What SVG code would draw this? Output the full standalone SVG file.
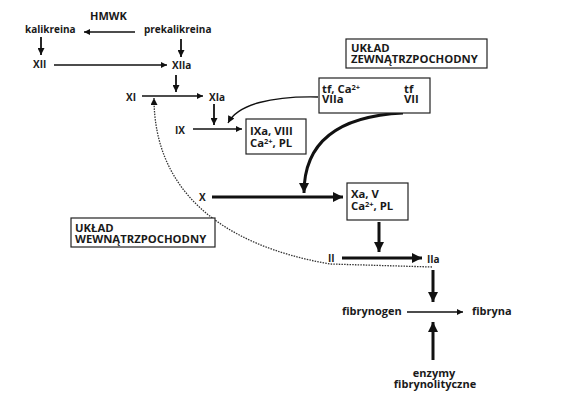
<svg xmlns="http://www.w3.org/2000/svg" width="563" height="403" viewBox="0 0 563 403">
<style>
text{font-family:"Open Sans","Liberation Sans",sans-serif;font-weight:bold;font-size:10px;fill:#1a1a1a}
.bx{font-size:11.3px}
.lg{font-size:11px}
.box{fill:#fff;stroke:#222;stroke-width:1.2}
.thin{stroke:#111;stroke-width:1.3;fill:none}
.med{stroke:#111;stroke-width:1.8;fill:none}
.thick{stroke:#111;stroke-width:3;fill:none}
.dot{stroke:#333;stroke-width:1.3;fill:none;stroke-dasharray:1.5 1.2}
.sup{font-size:7.5px}
</style>
<defs>
<marker id="ah" viewBox="0 0 10 10" refX="10" refY="5" markerWidth="8" markerHeight="6" markerUnits="userSpaceOnUse" orient="auto"><path d="M0,0 L10,5 L0,10 z" fill="#111"/></marker>
<marker id="ahm" viewBox="0 0 10 10" refX="10" refY="5" markerWidth="8" markerHeight="7" markerUnits="userSpaceOnUse" orient="auto"><path d="M0,0 L10,5 L0,10 z" fill="#111"/></marker>
<marker id="ahb" viewBox="0 0 10 10" refX="10" refY="5" markerWidth="12" markerHeight="10" markerUnits="userSpaceOnUse" orient="auto"><path d="M0,0 L10,5 L0,10 z" fill="#111"/></marker>
</defs>
<g id="connectors">
<line class="thin" x1="135" y1="32" x2="84" y2="32" marker-end="url(#ah)"/>
<line class="med" x1="41" y1="37" x2="41" y2="55" marker-end="url(#ahm)"/>
<line class="med" x1="181" y1="39" x2="181" y2="57" marker-end="url(#ahm)"/>
<line class="thin" x1="54" y1="65" x2="167" y2="65" marker-end="url(#ah)"/>
<line class="med" x1="176" y1="75" x2="176" y2="92" marker-end="url(#ahm)"/>
<line class="thin" x1="142" y1="96" x2="203" y2="96" marker-end="url(#ah)"/>
<line class="med" x1="214" y1="104" x2="214" y2="125" marker-end="url(#ahm)"/>
<line class="thin" x1="193" y1="129" x2="242" y2="129" marker-end="url(#ah)"/>
<line class="thin" x1="400" y1="89" x2="369" y2="89" marker-end="url(#ah)"/>
<line class="thin" x1="398" y1="99" x2="353" y2="99" marker-end="url(#ah)"/>
<path class="thin" d="M318,97 C272,96 238,104 228,123" marker-end="url(#ahm)"/>
<path class="thick" d="M403,113 C340,116 304,140 304,193" marker-end="url(#ahb)"/>
<line class="thick" x1="212" y1="197" x2="343" y2="197" marker-end="url(#ahb)"/>
<line class="thick" x1="379" y1="222" x2="379" y2="252" marker-end="url(#ahb)"/>
<line class="thick" x1="342" y1="258" x2="422" y2="258" marker-end="url(#ahb)"/>
<line class="thick" x1="433" y1="270" x2="433" y2="302" marker-end="url(#ahb)"/>
<line class="thin" x1="407" y1="312" x2="463" y2="312" marker-end="url(#ah)"/>
<line class="thick" x1="433" y1="360" x2="433" y2="322" marker-end="url(#ahb)"/>
<path class="dot" d="M432,267 L330,264 C220,245 154,190 154,98" marker-end="url(#ahm)"/>
</g>
<g id="hmwk"><text class="lg" x="90" y="19.5">HMWK</text></g>
<g id="kalikreina"><text x="25" y="33">kalikreina</text></g>
<g id="prekalikreina"><text x="144" y="33">prekalikreina</text></g>
<g id="xii"><text x="33" y="68">XII</text></g>
<g id="xiia"><text x="172" y="69">XIIa</text></g>
<g id="xi"><text x="126" y="101">XI</text></g>
<g id="xia"><text x="209" y="101">XIa</text></g>
<g id="ix"><text x="175" y="134">IX</text></g>
<g id="x"><text x="199" y="201">X</text></g>
<g id="ii"><text x="328" y="262">II</text></g>
<g id="iia"><text x="427" y="263">IIa</text></g>
<g id="uklad-zewn">
<rect class="box" x="346" y="39" width="141" height="29"/>
<text class="bx" x="351" y="52">UKŁAD<tspan x="351" dy="11">ZEWNĄTRZPOCHODNY</tspan></text>
</g>
<g id="tf-box">
<rect class="box" x="319" y="78" width="111" height="35"/>
<text class="bx" x="322" y="93">tf, Ca<tspan class="sup" dy="-3.5">2+</tspan><tspan x="322" dy="13.5">VIIa</tspan></text>
<text class="bx" x="404" y="93">tf<tspan x="404" dy="10">VII</tspan></text>
</g>
<g id="ixa-box">
<rect class="box" x="246" y="119" width="60" height="35"/>
<text class="bx" x="250" y="135">IXa, VIII<tspan x="250" dy="12">Ca</tspan><tspan class="sup" dy="-3.5">2+</tspan><tspan dy="3.5">, PL</tspan></text>
</g>
<g id="xa-box">
<rect class="box" x="347" y="183" width="61" height="37"/>
<text class="bx" x="351" y="198">Xa, V<tspan x="351" dy="12">Ca</tspan><tspan class="sup" dy="-3.5">2+</tspan><tspan dy="3.5">, PL</tspan></text>
</g>
<g id="uklad-wewn">
<rect class="box" x="71" y="218" width="144" height="29"/>
<text class="bx" x="75" y="232">UKŁAD<tspan x="75" dy="11">WEWNĄTRZPOCHODNY</tspan></text>
</g>
<g id="fibrynogen"><text class="lg" x="342" y="315">fibrynogen</text></g>
<g id="fibryna"><text class="lg" x="472" y="315">fibryna</text></g>
<g id="enzymy">
<text class="lg" x="434" y="377" text-anchor="middle">enzymy<tspan x="435" dy="11">fibrynolityczne</tspan></text>
</g>
</svg>
